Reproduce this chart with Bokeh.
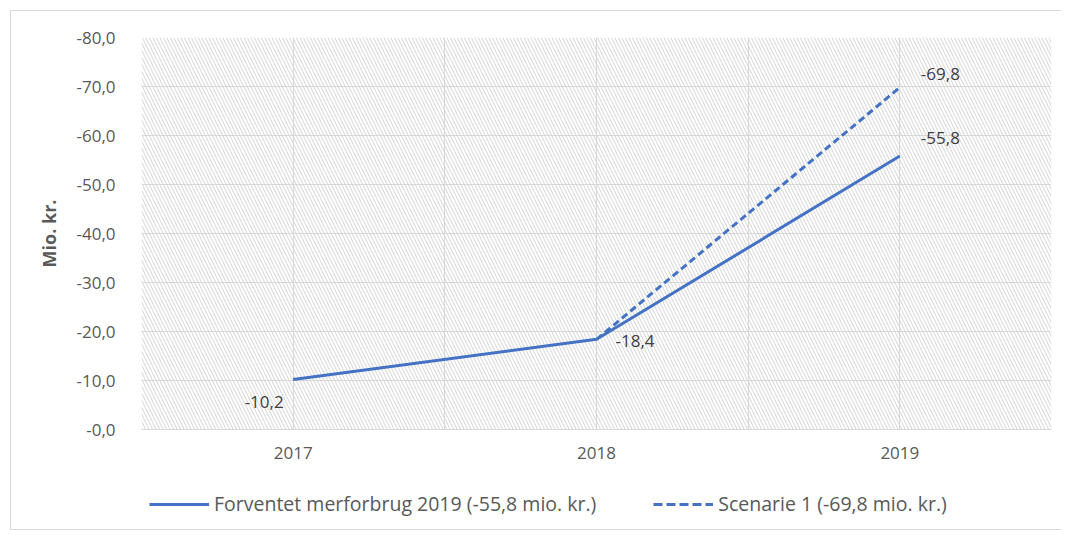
from bokeh.plotting import figure
from bokeh.layouts import column
from bokeh.models import (Range1d, FixedTicker, CustomJSTickFormatter, BoxAnnotation,
                          Label, Legend, LegendItem)
from bokeh.embed import file_html
from bokeh.resources import INLINE

categories = ["2017", "2018", "2019"]
forventet = [-10.2, -18.4, -55.8]
scenarie_years = ["2018", "2019"]
scenarie = [-18.4, -69.8]
y_ticks = [0, -10, -20, -30, -40, -50, -60, -70, -80]

name_forventet = "Forventet merforbrug 2019 (-55,8 mio. kr.)"
name_scenarie = "Scenarie 1 (-69,8 mio. kr.)"

BLUE = "#4472C4"
GRID = "#d9d9d9"
TXT = "#595959"
FONT = "Open Sans"

pos = {c: i + 0.5 for i, c in enumerate(categories)}
x_f = [pos[c] for c in categories]
x_s = [pos[c] for c in scenarie_years]

p = figure(width=1050, height=470, output_backend="svg", toolbar_location=None,
           x_range=Range1d(0, len(categories)), y_range=Range1d(0, -80),
           min_border_left=130, min_border_right=10, min_border_top=26, min_border_bottom=52)
p.outline_line_color = None
p.background_fill_color = "white"

# hatched plot area
p.add_layout(BoxAnnotation(fill_color="white", fill_alpha=0, line_color=None,
                           hatch_pattern="\\", hatch_color="#d4d4d4", hatch_scale=7,
                           hatch_weight=1, level="underlay"))

# axes
p.xaxis.ticker = FixedTicker(ticks=x_f)
p.xaxis.major_label_overrides = {x: c for x, c in zip(x_f, categories)}
p.yaxis.ticker = FixedTicker(ticks=y_ticks)
p.yaxis.formatter = CustomJSTickFormatter(
    code="return '-' + Math.abs(tick).toFixed(1).replace('.', ',');")
for ax in (p.xaxis, p.yaxis):
    ax.axis_line_color = None
    ax.major_tick_line_color = None
    ax.minor_tick_line_color = None
    ax.major_label_text_font = FONT
    ax.major_label_text_font_size = "17px"
    ax.major_label_text_color = TXT
p.xaxis.axis_line_color = GRID
p.xaxis.major_label_standoff = 11
p.yaxis.major_label_standoff = 20
p.yaxis.axis_label = "Mio. kr."
p.yaxis.axis_label_text_font = FONT
p.yaxis.axis_label_text_font_style = "bold"
p.yaxis.axis_label_text_font_size = "18px"
p.yaxis.axis_label_text_color = TXT
p.yaxis.axis_label_standoff = 12

p.xgrid.ticker = FixedTicker(ticks=[i * 0.5 for i in range(2 * len(categories) + 1)])
p.xgrid.grid_line_color = GRID
p.ygrid.grid_line_color = GRID

# lines
r_s = p.line(x_s, scenarie, line_color=BLUE, line_width=3, line_dash="7 4")
r_f = p.line(x_f, forventet, line_color=BLUE, line_width=3)

# data labels
lab = dict(text_font=FONT, text_font_size="17px", text_color="#404040")
p.add_layout(Label(x=x_f[0], y=forventet[0], text="-10,2", x_offset=-29, y_offset=-22,
                   text_align="center", text_baseline="middle", **lab))
p.add_layout(Label(x=x_f[1], y=forventet[1], text="-18,4", x_offset=19, y_offset=-2,
                   text_align="left", text_baseline="middle", **lab))
p.add_layout(Label(x=x_f[2], y=forventet[2], text="-55,8", x_offset=21, y_offset=18,
                   text_align="left", text_baseline="middle", **lab))
p.add_layout(Label(x=x_s[1], y=scenarie[1], text="-69,8", x_offset=21, y_offset=13,
                   text_align="left", text_baseline="middle", **lab))

# legend strip (separate figure below the chart)
pl = figure(width=1050, height=48, output_backend="svg", toolbar_location=None,
            x_range=Range1d(100, 101), y_range=Range1d(100, 101),
            min_border=0, outline_line_color=None)
pl.axis.visible = False
pl.grid.visible = False
l_f = pl.line(x_f, forventet, line_color=BLUE, line_width=3)
l_s = pl.line(x_s, scenarie, line_color=BLUE, line_width=3, line_dash="9 4")
legend = Legend(items=[LegendItem(label=name_forventet, renderers=[l_f]),
                       LegendItem(label=name_scenarie, renderers=[l_s])],
                orientation="horizontal", location=(8, 12),
                label_text_font=FONT, label_text_font_size="19.5px", label_text_color=TXT,
                glyph_width=60, label_standoff=5, spacing=57,
                border_line_color=None, background_fill_alpha=0, margin=0, padding=0)
pl.add_layout(legend)

layout = column(p, pl, spacing=0,
                styles={"margin-left": "10px", "margin-top": "10px",
                        "border-left": "1px solid #d9d9d9", "border-top": "1px solid #d9d9d9",
                        "border-bottom": "1px solid #d9d9d9"})

open("out.html", "w").write(file_html(layout, INLINE))
